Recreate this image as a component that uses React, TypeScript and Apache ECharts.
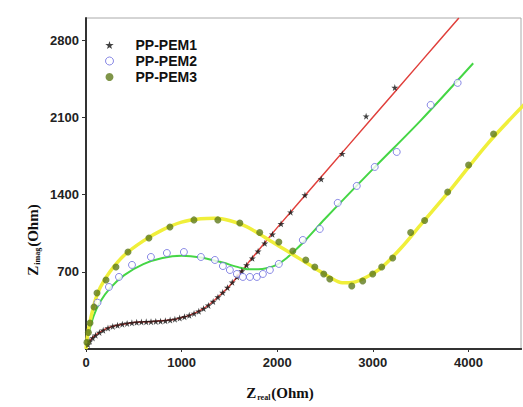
import React, { useEffect, useRef } from "react";
import * as echarts from "echarts";

// ---------- data ----------
const pem1Points: [number, number][] = [
  [20, 40], [40, 70], [70, 100], [100, 125], [140, 150], [180, 170], [230, 190],
  [280, 205], [330, 215], [380, 225], [430, 232], [480, 238], [530, 242], [580, 245],
  [630, 247], [680, 248], [730, 250], [780, 252], [830, 256], [880, 262], [930, 270],
  [980, 280], [1030, 292], [1080, 305], [1130, 322], [1180, 342], [1230, 366],
  [1280, 395], [1330, 430], [1380, 470], [1430, 512], [1480, 556], [1530, 604],
  [1580, 654], [1630, 706], [1680, 760], [1740, 822], [1800, 886], [1870, 958],
  [1950, 1040], [2040, 1135], [2140, 1240], [2290, 1395], [2460, 1540],
  [2680, 1770], [2930, 2110], [3230, 2370],
];
const pem1Fit: [number, number][] = [
  [0, 0], [50, 85], [100, 125], [200, 180], [300, 210], [500, 240], [700, 250],
  [900, 265], [1000, 285], [1100, 312], [1200, 352], [1300, 410], [1400, 487],
  [1500, 570], [1600, 675], [1700, 785], [1800, 890], [2000, 1100], [2500, 1600],
  [3000, 2100], [3500, 2600], [3900, 3000],
];
const pem2Points: [number, number][] = [
  [120, 420], [240, 562], [345, 653], [481, 762], [679, 834], [846, 870], [1024, 879],
  [1202, 834], [1348, 807], [1432, 752], [1505, 716], [1578, 680], [1641, 653],
  [1714, 653], [1787, 653], [1850, 680], [1923, 716], [2017, 771], [2268, 988],
  [2445, 1088], [2633, 1324], [2832, 1478], [3020, 1650], [3250, 1786],
  [3605, 2212], [3887, 2412],
];
const pem2Fit: [number, number][] = [
  [0, 0], [30, 150], [80, 300], [150, 430], [250, 550], [400, 670], [600, 770],
  [800, 825], [1000, 845], [1200, 830], [1400, 790], [1600, 740], [1700, 722],
  [1800, 722], [1900, 735], [2000, 765], [2100, 825], [2200, 905], [2300, 990],
  [2500, 1180], [3000, 1630], [3500, 2070], [4050, 2590],
];
const pem3Points: [number, number][] = [
  [10, 60], [25, 150], [42, 236], [84, 381], [115, 508], [209, 626], [313, 743],
  [439, 879], [658, 1006], [878, 1106], [1129, 1170], [1379, 1170], [1609, 1142],
  [1817, 1056], [2017, 970], [2163, 888], [2299, 807], [2393, 743], [2487, 680],
  [2550, 635], [2780, 571], [2894, 616], [2999, 680], [3093, 743], [3208, 825],
  [3396, 1056], [3542, 1165], [3783, 1423], [4002, 1668], [4263, 1949],
];
const pem3Fit: [number, number][] = [
  [0, 0], [20, 150], [50, 280], [100, 450], [150, 560], [250, 700], [400, 850],
  [600, 980], [800, 1080], [1000, 1150], [1200, 1180], [1350, 1185], [1500, 1165],
  [1650, 1120], [1800, 1050], [1950, 970], [2100, 890], [2250, 810], [2400, 730],
  [2550, 650], [2680, 600], [2800, 605], [2950, 660], [3100, 745], [3300, 920],
  [3500, 1125], [3800, 1430], [4200, 1860], [4600, 2230],
];
const seriesNames = ["PP-PEM1", "PP-PEM2", "PP-PEM3"];
const xTicks = { min: 0, max: 4550, interval: 1000 };
const yTicks = { min: 0, max: 3000, interval: 700 };

const STAR =
  "path://M50,0 L61,35 L98,35 L68,57 L79,91 L50,70 L21,91 L32,57 L2,35 L39,35 Z";

const tickFont = {
  fontFamily: "Liberation Sans, Arial, sans-serif",
  fontWeight: "bold" as const,
  fontSize: 13,
  color: "#222",
};
const titleRich = {
  z: {
    fontFamily: "Liberation Serif, Times New Roman, serif",
    fontWeight: "bold" as const,
    fontSize: 15,
    fill: "#111",
  },
  s: {
    fontFamily: "Liberation Serif, Times New Roman, serif",
    fontWeight: "bold" as const,
    fontSize: 8,
    fill: "#111",
    padding: [9, 1, 0, 1],
  },
};

export default function App() {
  const ref = useRef<HTMLDivElement>(null);
  useEffect(() => {
    document.body.style.margin = "0";
    const chart = echarts.init(ref.current!, undefined, { renderer: "svg" });
    chart.setOption({
      animation: false,
      backgroundColor: "#ffffff",
      grid: {
        left: 86,
        right: 2,
        top: 18,
        bottom: 58,
        show: true,
        borderColor: "#aaaaaa",
        borderWidth: 1,
      },
      legend: {
        orient: "vertical",
        left: 100,
        top: 33,
        itemWidth: 42,
        itemHeight: 8,
        itemGap: 2,
        textStyle: {
          fontFamily: "Liberation Sans, Arial, sans-serif",
          fontWeight: "bold",
          fontSize: 14,
          color: "#111",
        },
        data: [
          { name: seriesNames[0], icon: STAR, itemStyle: { color: "#111" } },
          {
            name: seriesNames[1],
            icon: "circle",
            itemStyle: { color: "#fff", borderColor: "#6b6bdf", borderWidth: 1 },
          },
          { name: seriesNames[2], icon: "circle", itemStyle: { color: "#5f7a1c" } },
        ],
      },
      xAxis: [
        {
          type: "value",
          min: xTicks.min,
          max: xTicks.max,
          interval: xTicks.interval,
          splitLine: { show: false },
          axisLine: { show: true, onZero: false, lineStyle: { color: "#333", width: 2 } },
          axisTick: { show: true, length: 3, lineStyle: { color: "#333" } },
          axisLabel: {
            ...tickFont,
            margin: 7,
            showMaxLabel: false,
            formatter: (v: number) => String(v),
          },
        },
        {
          type: "value",
          position: "top",
          min: xTicks.min,
          max: xTicks.max,
          splitLine: { show: false },
          axisLine: { show: true, lineStyle: { color: "#333", width: 2 } },
          axisTick: { show: false },
          axisLabel: { show: false },
        },
      ],
      yAxis: {
        type: "value",
        min: yTicks.min,
        max: yTicks.max,
        interval: yTicks.interval,
        splitLine: { show: false },
        axisLine: { show: true, onZero: false, lineStyle: { color: "#333", width: 2 } },
        axisTick: { show: true, length: 4, lineStyle: { color: "#333" } },
        axisLabel: {
          ...tickFont,
          margin: 7,
          showMinLabel: false,
          showMaxLabel: false,
          formatter: (v: number) => String(v),
        },
      },
      graphic: [
        {
          type: "text",
          x: 33,
          y: 240,
          rotation: Math.PI / 2,
          style: {
            text: "{z|Z}{s|imag}{z|(Ohm)}",
            rich: titleRich,
            align: "center",
            verticalAlign: "middle",
          },
        },
        {
          type: "text",
          x: 280,
          y: 393,
          style: {
            text: "{z|Z}{s|real}{z|(Ohm)}",
            rich: titleRich,
            align: "center",
            verticalAlign: "middle",
          },
        },
      ],
      series: [
        {
          name: "fit1",
          type: "line",
          data: pem1Fit,
          smooth: 0.3,
          showSymbol: false,
          lineStyle: { color: "#e0403c", width: 1.5 },
          z: 2,
        },
        {
          name: "fit2",
          type: "line",
          data: pem2Fit,
          smooth: 0.3,
          showSymbol: false,
          lineStyle: { color: "#45d645", width: 2 },
          z: 2,
        },
        {
          name: "fit3",
          type: "line",
          data: pem3Fit,
          smooth: 0.3,
          showSymbol: false,
          lineStyle: { color: "#f0ef3a", width: 3.5 },
          z: 2,
        },
        {
          name: seriesNames[0],
          type: "scatter",
          data: pem1Points,
          symbol: STAR,
          symbolSize: 7,
          itemStyle: { color: "#111" },
          z: 4,
        },
        {
          name: seriesNames[1],
          type: "scatter",
          data: pem2Points,
          symbol: "circle",
          symbolSize: 7,
          itemStyle: { color: "#fff", borderColor: "#6b6bdf", borderWidth: 1 },
          z: 4,
        },
        {
          name: seriesNames[2],
          type: "scatter",
          data: pem3Points,
          symbol: "circle",
          symbolSize: 7,
          itemStyle: { color: "#5f7a1c" },
          z: 4,
        },
      ],
    });
    return () => chart.dispose();
  }, []);
  return (
    <div
      ref={ref}
      style={{ position: "absolute", left: 0, top: 0, width: 523, height: 407 }}
    />
  );
}
